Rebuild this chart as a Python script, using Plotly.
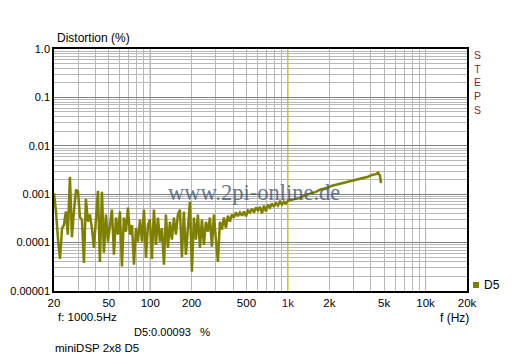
import plotly.graph_objects as go

# Frequencies (Hz) and distortion (%)
freq = [
    20.0, 20.7, 21.4, 22.1, 22.9, 23.6, 24.4, 25.2, 26.1, 27.0,
    27.9, 28.9, 29.9, 30.9, 31.9, 33.0, 34.1, 35.3, 36.5, 37.7,
    39.0, 40.3, 41.7, 43.1, 44.6, 46.1, 47.7, 49.3, 51.0, 52.7,
    54.5, 56.4, 58.3, 60.3, 62.3, 64.4, 66.6, 68.9, 71.2, 73.7,
    76.2, 78.8, 81.4, 84.2, 87.1, 90.0, 93.1, 96.3, 99.5, 102.9,
    106.4, 110.0, 113.8, 117.6, 121.6, 125.8, 130.0, 134.5, 139.0, 143.7,
    148.6, 153.7, 158.9, 164.3, 169.9, 175.6, 181.6, 187.8, 194.2, 200.8,
    207.6, 214.7, 222.0, 229.6, 237.4, 245.4, 253.8, 262.4, 271.3, 280.6,
    290.1, 300.0, 310.2, 320.7, 331.6, 342.9, 354.6, 366.6, 379.1, 392.0,
    405.3, 419.1, 433.4, 448.4, 463.9, 479.7, 496.0, 513.0, 530.0, 548.0,
    567.0, 586.0, 606.0, 627.0, 648.0, 670.0, 693.0, 717.0, 741.0, 766.0,
    792.0, 819.0, 847.0, 876.0, 906.0, 937.0, 969.0, 1002.0,
    1071, 1145, 1225, 1309, 1400, 1497, 1600, 1711, 1830, 1956,
    2092, 2236, 2391, 2557, 2734, 2923, 3125, 3341, 3573, 3820,
    4084, 4367, 4515, 4669, 4747,
]
dist = [
    0.00105, 0.00042, 0.000115, 0.000046, 0.0002, 0.00023, 0.00044, 0.000146, 0.0023, 0.00013,
    0.00044, 0.00124, 0.00112, 0.00033, 0.0003, 0.000038, 0.0008, 0.00027, 0.00038, 0.0002,
    0.000078, 0.00038, 0.00118, 0.00004, 0.00112, 0.000062, 0.00038, 0.000105, 0.00023, 0.00048,
    0.000056, 0.00033, 0.000146, 0.00044, 0.000032, 0.00033, 0.000168, 0.00053, 0.000146, 0.00023,
    0.000035, 0.0002, 0.000105, 0.0003, 0.000105, 0.00048, 0.000049, 0.00023, 0.0003, 0.000046,
    0.00048, 0.00009, 0.00033, 0.000105, 0.0002, 0.000035, 0.00038, 0.000078, 0.00027, 0.000115,
    0.00033, 0.000146, 0.00038, 0.00048, 0.00005, 0.00044, 0.000056, 0.00023, 0.0007, 0.000025,
    0.00033, 0.000115, 0.00038, 0.000078, 0.0003, 0.00009, 0.00027, 0.000168, 0.00033, 0.000082,
    0.00038, 0.000115, 0.00004, 0.00027, 0.000185, 0.00033, 0.0002, 0.00036, 0.00027, 0.00038,
    0.00033, 0.00042, 0.00035, 0.00042, 0.00036, 0.00044, 0.00035, 0.00046, 0.00042, 0.0005,
    0.00042, 0.00053, 0.00046, 0.00055, 0.0004, 0.00058, 0.00044, 0.00061, 0.00053, 0.00064,
    0.00055, 0.00067, 0.00058, 0.0007, 0.00061, 0.0007, 0.00064, 0.00074,
    0.00077, 0.0008, 0.00084, 0.00093, 0.00098, 0.00107, 0.00112, 0.00124, 0.0013, 0.00137,
    0.0015, 0.00157, 0.00165, 0.00173, 0.0018, 0.0019, 0.002, 0.0021, 0.0022, 0.0023,
    0.0025, 0.0026, 0.0028, 0.0024, 0.0017,
]

x_ticks = [20, 50, 100, 200, 500, 1000, 2000, 5000, 10000, 20000]
x_labels = ["20", "50", "100", "200", "500",
            "<span style='color:#500050'>1k</span>", "2k", "5k", "10k", "20k"]
y_ticks = [1e-5, 1e-4, 1e-3, 1e-2, 1e-1, 1]
y_labels = ["0.00001", "0.0001", "0.001", "0.01", "0.1", "1.0"]
cursor_f = 1000.5
series_name = "D5"

OLIVE = "#808000"
LIGHT = "#b8b8b8"
DARK = "#808080"
FONT = "Liberation Sans, Arial, sans-serif"

W, H = 512, 358
L, R, T, B = 54, 45, 49, 67
pw, ph = W - L - R, H - T - B


def px(x):
    return (x - L) / pw


def py(y):
    return 1 - (y - T) / ph


minor_x = [m * 10 ** e for e in range(1, 5) for m in range(2, 10) if 20 <= m * 10 ** e <= 20000]
minor_y = [m * 10.0 ** e for e in range(-5, 0) for m in range(2, 10)]

fig = go.Figure()
fig.add_trace(go.Scatter(
    x=freq, y=dist, mode="lines", line=dict(color=OLIVE, width=2.5),
    showlegend=False, hoverinfo="skip", name=series_name))

shapes = []
for v in (100, 10000):
    shapes.append(dict(type="line", xref="x", yref="paper", x0=v, x1=v, y0=0, y1=1,
                       line=dict(color=DARK, width=1), layer="below"))
shapes.append(dict(type="line", xref="x", yref="paper", x0=cursor_f, x1=cursor_f, y0=0, y1=1,
                   line=dict(color="#c8c800", width=1.2), layer="below"))
# legend swatch
shapes.append(dict(type="rect", xref="paper", yref="paper",
                   x0=px(473), x1=px(479), y0=py(288), y1=py(282),
                   fillcolor=OLIVE, line=dict(width=0)))

fig.update_layout(
    width=W, height=H,
    margin=dict(l=L, r=R, t=T, b=B, autoexpand=False),
    paper_bgcolor="white", plot_bgcolor="white",
    font=dict(family=FONT, size=12, color="black"),
    shapes=shapes,
    showlegend=False,
    xaxis=dict(type="log", range=[1.30103, 4.30103],
               tickvals=x_ticks, ticktext=x_labels, ticks="",
               showgrid=True, gridcolor=LIGHT, gridwidth=1,
               minor=dict(tickvals=minor_x, showgrid=True, gridcolor=LIGHT, gridwidth=1, ticks=""),
               showline=True, linecolor="black", linewidth=1.5, mirror=True,
               zeroline=False, tickfont=dict(size=11.5, color="black")),
    yaxis=dict(type="log", range=[-5, 0],
               tickvals=y_ticks, ticktext=y_labels, ticks="",
               showgrid=True, gridcolor=DARK, gridwidth=1,
               minor=dict(tickvals=minor_y, showgrid=True, gridcolor=LIGHT, gridwidth=1, ticks=""),
               showline=True, linecolor="black", linewidth=1.5, mirror=True,
               zeroline=False, tickfont=dict(size=11, color="black")),
)

ann = [
    ("Distortion (%)", 55, 38, 12),
    ("f (Hz)", 438, 318, 12),
    ("f: 1000.5Hz", 56, 317, 11.5),
    ("D5:0.00093", 132, 332, 11),
    ("%", 198, 332, 11.5),
    ("miniDSP 2x8 D5", 53, 348, 11.5),
    (series_name, 482, 285, 12),
]
for text, x, y, s in ann:
    fig.add_annotation(xref="paper", yref="paper", x=px(x), y=py(y), text=text,
                       showarrow=False, xanchor="left", yanchor="middle",
                       font=dict(family=FONT, size=s, color="black"))

fig.add_annotation(xref="paper", yref="paper", x=px(477), y=py(82),
                   text="S<br>T<br>E<br>P<br>S", showarrow=False,
                   xanchor="center", yanchor="middle", align="center",
                   font=dict(family=FONT, size=10.5, color="#8b2525"))

fig.add_annotation(xref="paper", yref="paper", x=px(254), y=py(192),
                   text="www.2pi-online.de", showarrow=False, xanchor="center", yanchor="middle",
                   font=dict(family="Liberation Serif, Times New Roman, serif", size=22.5,
                             color="rgba(65,85,115,0.8)"))

fig.write_html("out.html")
